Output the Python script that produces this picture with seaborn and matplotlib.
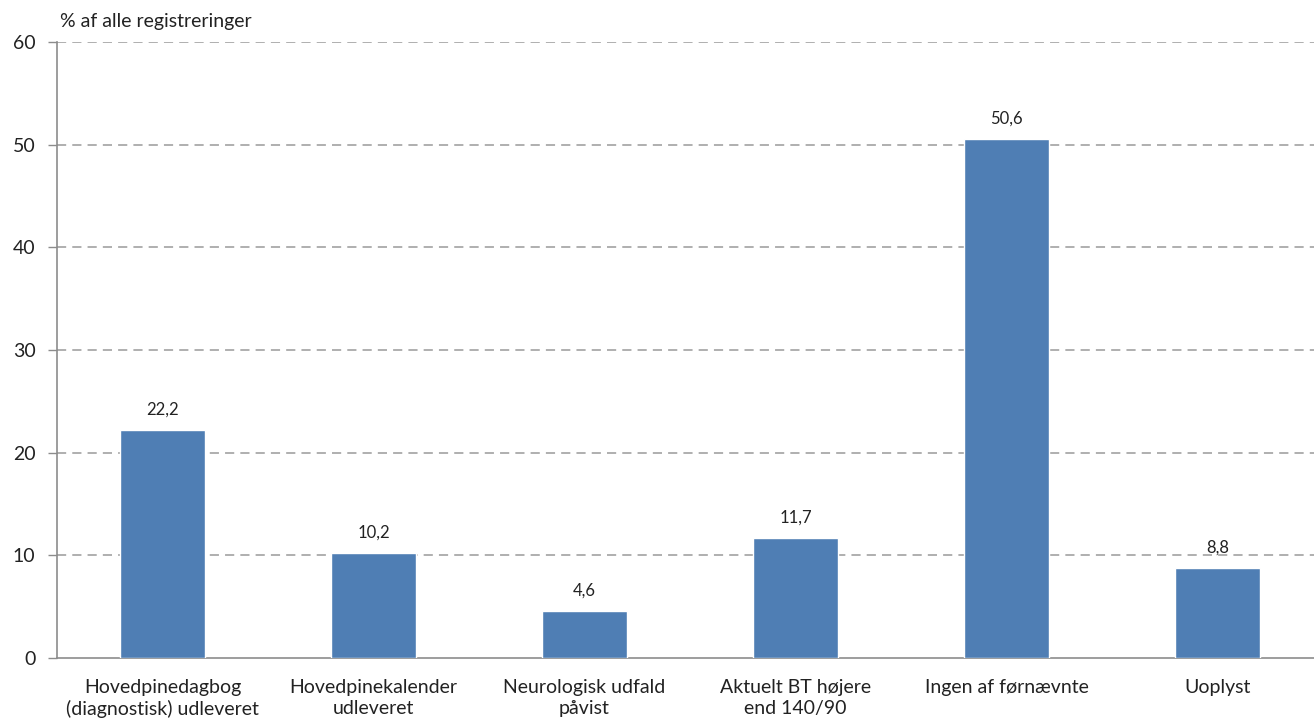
import matplotlib
matplotlib.use("Agg")
import matplotlib.pyplot as plt
import seaborn as sns
import pandas as pd
import numpy as np

categories = [
    "Hovedpinedagbog\n(diagnostisk) udleveret",
    "Hovedpinekalender\nudleveret",
    "Neurologisk udfald\npåvist",
    "Aktuelt BT højere\nend 140/90",
    "Ingen af førnævnte",
    "Uoplyst",
]
values = [22.2, 10.2, 4.6, 11.7, 50.6, 8.8]
value_labels = ["22,2", "10,2", "4,6", "11,7", "50,6", "8,8"]
y_ticks = [0, 10, 20, 30, 40, 50, 60]

sns.set_theme(style="white")
plt.rcParams["font.family"] = ["Lato", "DejaVu Sans"]

df = pd.DataFrame({"kategori": categories, "pct": values})

fig = plt.figure(figsize=(13.14, 7.2), dpi=100)
ax = fig.add_axes([57 / 1314, 62 / 720, 1266 / 1314, 616 / 720])

sns.barplot(data=df, x="kategori", y="pct", color="#4F7EB4", width=0.4,
            saturation=1, ax=ax, zorder=3)

ax.set_ylim(0, 60)
ax.set_xlim(-0.5, len(categories) - 0.5)
ax.set_yticks(y_ticks)
ax.set_yticklabels([str(t) for t in y_ticks], fontsize=14, color="#222222")
for t in y_ticks[1:]:
    ax.axhline(t, color="#9A9A9A", linestyle=(0, (6, 4)), linewidth=1.1, zorder=1)

# category labels sit between boundary tick marks
ax.set_xticks(np.arange(len(categories)))
ax.set_xticklabels(categories, fontsize=14, color="#222222", linespacing=1.3)
ax.tick_params(axis="x", length=0, pad=15)
ax.set_xticks(np.arange(len(categories) + 1) - 0.5, minor=True)
ax.tick_params(axis="x", which="minor", length=5, color="#8C8C8C", width=1, direction="out")
ax.tick_params(axis="y", length=6.5, color="#8C8C8C", width=1, direction="out", pad=9, left=True)

for s in ["top", "right"]:
    ax.spines[s].set_visible(False)
for s in ["left", "bottom"]:
    ax.spines[s].set_color("#8C8C8C")
    ax.spines[s].set_linewidth(1.2)

for i, (v, lab) in enumerate(zip(values, value_labels)):
    ax.text(i, v + 1.2, lab, ha="center", va="bottom", fontsize=12, color="#222222", zorder=4)

ax.set_xlabel("")
ax.set_ylabel("")
fig.text(60 / 1314, 1 - 21 / 720, "% af alle registreringer", fontsize=14,
         color="#222222", ha="left", va="center")

fig.savefig("out.png", dpi=100, facecolor="white")
